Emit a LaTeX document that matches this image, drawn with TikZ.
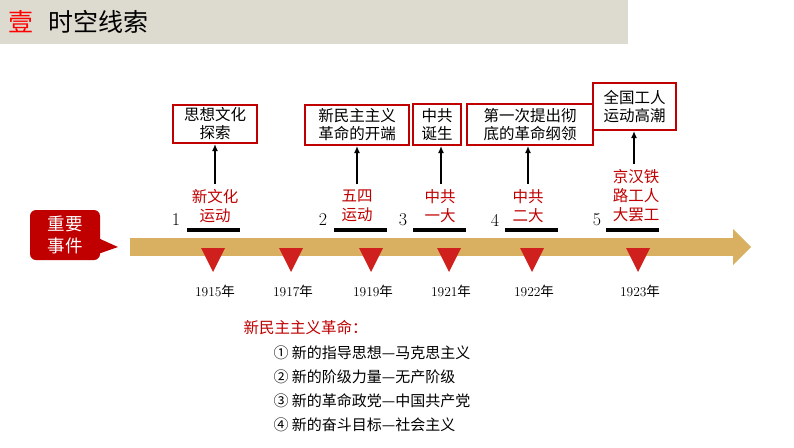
\documentclass[tikz,border=0pt]{standalone}
\usepackage{fontspec}
\newfontfamily\cjk{Noto Sans CJK SC}
\definecolor{hdr}{HTML}{DDDBD0}
\definecolor{dred}{HTML}{C00000}
\definecolor{bar}{HTML}{D9B062}
\definecolor{tri}{HTML}{D0201E}
\tikzset{
 box/.style={draw=dred,line width=2pt,fill=white,align=center,inner sep=1pt,font=\cjk\fontsize{15.5}{18}\selectfont},
 evt/.style={text=dred,align=center,font=\cjk\fontsize{15.5}{19}\selectfont},
 num/.style={font=\fontsize{18}{18}\selectfont},
 yr/.style={font=\fontsize{13.5}{14}\selectfont},
 up/.style={-{Latex[length=7pt,width=6pt]},line width=2.4pt},
 ul/.style={line width=3.5pt},
 itm/.style={anchor=west,font=\cjk\fontsize{15}{17}\selectfont}
}
\usetikzlibrary{arrows.meta}
\begin{document}
\begin{tikzpicture}[x=1pt,y=-1pt]
\useasboundingbox (0,0) rectangle (794,447);
\fill[hdr] (0,0) rectangle (628,44);
\node[anchor=west,text=red,font=\cjk\fontsize{25}{25}\selectfont] (h1) at (5,22) {壹};
\node[anchor=west,font=\cjk\fontsize{25}{25}\selectfont] (h2) at (45,22) {时空线索};
% callout
\fill[dred,rounded corners=6pt] (30,210) rectangle (100,260);
\fill[dred] (98,238) -- (118,247) -- (98,254) -- cycle;
\node[text=white,align=center,font=\cjk\fontsize{17.5}{22}\selectfont] (ce) at (65,235) {重要\\事件};
% bar
\fill[bar] (130,238) rectangle (735,256);
\fill[bar] (733,229) -- (751,247) -- (733,265) -- cycle;
% triangles and years
\foreach \x/\y in {213/1915,291/1917,371/1919,449/1921,532/1922,638/1923}{
 \fill[tri] (\x-12,248) -- (\x+12,248) -- (\x,272) -- cycle;
 \node[yr] at (\x+2,291) {\y{\cjk 年}};
}
% numbers and underlines
\foreach \n/\x/\a in {1/176/187,2/323/334,3/403/413,4/495/505,5/597/606}{
 \node[num] at (\x,220) {\n};
 \draw[ul] (\a,230) -- (\a+53,230);
}
% events
\node[evt] (e1) at (215,206) {新文化\\运动};
\node[evt] (e2) at (357,206) {五四\\运动};
\node[evt] (e3) at (440,206) {中共\\一大};
\node[evt] (e4) at (528,206) {中共\\二大};
\node[evt] (e5) at (636,196) {京汉铁\\路工人\\大罢工};
% boxes
\node[box,minimum width=84pt,minimum height=38pt] (b1) at (215,124) {思想文化\\探索};
\node[box,minimum width=104pt,minimum height=40pt] (b2) at (357,125) {新民主主义\\革命的开端};
\node[box,minimum width=48pt,minimum height=41pt] (b3) at (437,124.5) {中共\\诞生};
\node[box,minimum width=126pt,minimum height=41pt] (b4) at (530,124.5) {第一次提出彻\\底的革命纲领};
\node[box,minimum width=83pt,minimum height=47pt] (b5) at (634.5,106.5) {全国工人\\运动高潮};
\draw[up] ([yshift=2pt]e1.north) -- (b1.south);
\draw[up] ([yshift=2pt]e2.north) -- (b2.south);
\draw[up] ([xshift=1pt,yshift=2pt]e3.north) -- ([xshift=4pt]b3.south);
\draw[up] ([yshift=2pt]e4.north) -- (b4.south -| e4.north);
\draw[up] ([xshift=-2pt,yshift=2pt]e5.north) -- ([xshift=-0.5pt]b5.south);
% bottom text
\node[anchor=west,text=dred,font=\cjk\fontsize{15.5}{17}\selectfont] (t0) at (240,328) {新民主主义革命：};
\node[itm] (t1) at (270,353) {① 新的指导思想—马克思主义};
\node[itm] (t2) at (270,377) {② 新的阶级力量—无产阶级};
\node[itm] (t3) at (270,401) {③ 新的革命政党—中国共产党};
\node[itm] (t4) at (270,425) {④ 新的奋斗目标—社会主义};
\end{tikzpicture}
\end{document}
